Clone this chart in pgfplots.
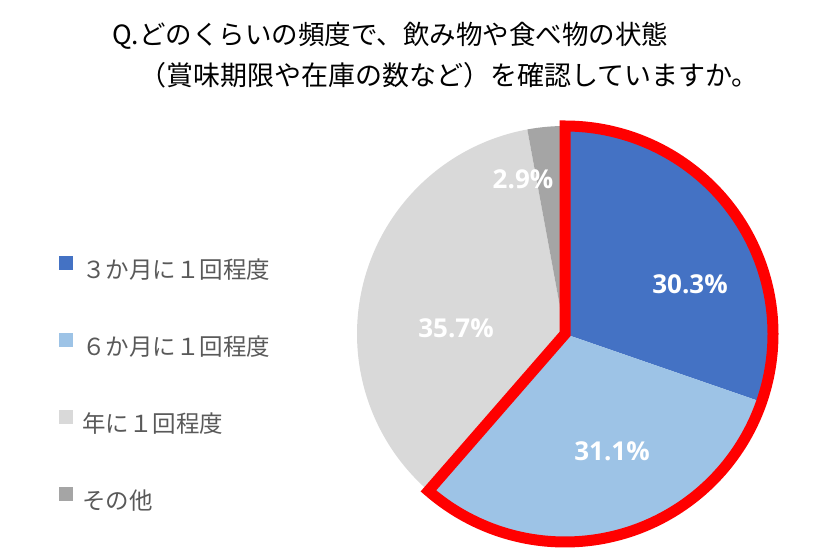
\documentclass[border=0pt]{standalone}
\usepackage{fontspec}
\usepackage{pgfplots}
\usepackage{pgfplotstable}
\pgfplotsset{compat=1.18}
\setmainfont{Noto Sans CJK JP}
\newfontfamily\pct{Open Sans}
\definecolor{c1}{HTML}{4472C4}
\definecolor{c2}{HTML}{9DC3E6}
\definecolor{c3}{HTML}{D9D9D9}
\definecolor{c4}{HTML}{A5A5A5}
\definecolor{textgray}{HTML}{595959}

\pgfplotstableread{
cat value
1 30.3
2 31.1
3 35.7
4 2.9
}\piedata
\pgfplotstablegetelem{0}{value}\of\piedata \let\va\pgfplotsretval
\pgfplotstablegetelem{1}{value}\of\piedata \let\vb\pgfplotsretval
\pgfplotstablegetelem{2}{value}\of\piedata \let\vc\pgfplotsretval
\pgfplotstablegetelem{3}{value}\of\piedata \let\vd\pgfplotsretval
\pgfmathsetmacro\aA{90}
\pgfmathsetmacro\aB{90-3.6*\va}
\pgfmathsetmacro\aC{\aB-3.6*\vb}
\pgfmathsetmacro\aD{\aC-3.6*\vc}
\pgfmathsetmacro\aE{\aD-3.6*\vd}
\def\cx{565}
\def\cy{225}
\def\R{208}

\begin{document}
\begin{tikzpicture}
\begin{axis}[
  width=840pt, height=559pt, scale only axis,
  xmin=0, xmax=840, ymin=0, ymax=559,
  hide axis, clip=false,
  legend style={at={(axis cs:59,303)}, anchor=north west, draw=none, fill=none,
    inner sep=0pt, row sep=50pt, font=\fontsize{23.5}{27}\selectfont, text=textgray,
    nodes={inner sep=0pt, text height=17pt, text depth=5pt},
    cells={anchor=west},
    /tikz/every odd column/.append style={column sep=9pt}},
  legend image code/.code={\fill[#1] (0pt,2pt) rectangle (14pt,16pt);},
]
\path (axis cs:0,0) rectangle (axis cs:840,559);
\addplot[fill=c1, draw=none, domain=\aB:\aA, samples=120, variable=t]
  ({\cx+\R*cos(t)}, {\cy+\R*sin(t)}) -- (axis cs:\cx,\cy) -- cycle;
\addlegendentry{３か月に１回程度}
\addplot[fill=c2, draw=none, domain=\aC:\aB, samples=120, variable=t]
  ({\cx+\R*cos(t)}, {\cy+\R*sin(t)}) -- (axis cs:\cx,\cy) -- cycle;
\addlegendentry{６か月に１回程度}
\addplot[fill=c3, draw=none, domain=\aD:\aC, samples=120, variable=t]
  ({\cx+\R*cos(t)}, {\cy+\R*sin(t)}) -- (axis cs:\cx,\cy) -- cycle;
\addlegendentry{年に１回程度}
\addplot[fill=c4, draw=none, domain=\aE:\aD, samples=30, variable=t]
  ({\cx+\R*cos(t)}, {\cy+\R*sin(t)}) -- (axis cs:\cx,\cy) -- cycle;
\addlegendentry{その他}
\addplot[forget plot, draw=red, line width=11pt, line join=miter, miter limit=10, domain=\aC:\aA, samples=200, variable=t]
  ({\cx+\R*cos(t)}, {\cy+\R*sin(t)}) -- (axis cs:\cx,\cy) -- cycle;

\tikzset{pctlbl/.style={text=white, inner sep=0pt, font={\pct\bfseries\fontsize{26}{30}\selectfont}}}
\node[pctlbl] at (axis cs:690,275) {\va\%};
\node[pctlbl] at (axis cs:612,108) {\vb\%};
\node[pctlbl] at (axis cs:456,231) {\vc\%};
\node[pctlbl] at (axis cs:523,380) {\vd\%};

\node[anchor=west, inner sep=0pt, font=\fontsize{26.5}{31}\selectfont] at (axis cs:112,523) {Q.どのくらいの頻度で、飲み物や食べ物の状態};
\node[anchor=west, inner sep=0pt, font=\fontsize{27}{31}\selectfont] at (axis cs:139,484) {（賞味期限や在庫の数など）を確認していますか。};
\end{axis}
\end{tikzpicture}
\end{document}
